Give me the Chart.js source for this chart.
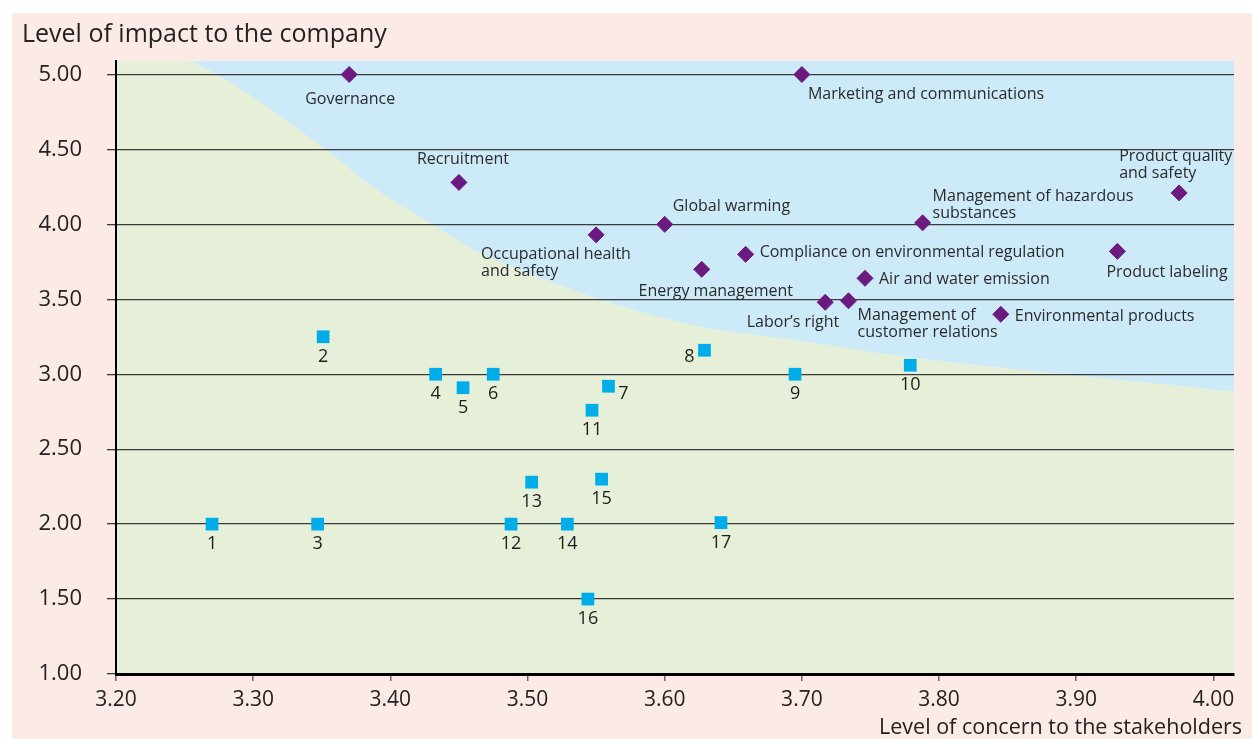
<!DOCTYPE html>
<html>
<head>
<meta charset="utf-8">
<script src="https://cdn.jsdelivr.net/npm/chart.js@4.4.0/dist/chart.umd.min.js"></script>
<style>
    html, body { margin: 0; padding: 0; background: #ffffff; }
    #marco { position: relative; width: 1252px; height: 739px; }
    #fondo { position: absolute; left: 12px; top: 13px; right: 0; bottom: 0; background: #fbeae6; }
    #grafico { position: absolute; left: 0; top: 0; }
</style>
</head>
<body>
<div id="marco">
    <div id="fondo"></div>
    <canvas id="grafico" width="1252" height="739"></canvas>
</div>
<script>
// material topics (purple diamonds)
var temasNombres = [
    'Governance', 'Marketing and communications', 'Recruitment',
    'Occupational health\nand safety', 'Global warming', 'Energy management',
    'Compliance on environmental regulation', 'Labor\u2019s right',
    'Management of\ncustomer relations', 'Air and water emission',
    'Management of hazardous\nsubstances', 'Environmental products',
    'Product labeling', 'Product quality\nand safety'
];
var temasConcern = [3.37, 3.70, 3.45, 3.55, 3.60, 3.627, 3.659, 3.717, 3.734, 3.746, 3.788, 3.845, 3.930, 3.975];
var temasImpact = [5.00, 5.00, 4.28, 3.93, 4.00, 3.70, 3.80, 3.48, 3.49, 3.64, 4.01, 3.40, 3.82, 4.21];

// numbered topics (blue squares)
var numeros = ['1', '2', '3', '4', '5', '6', '7', '8', '9', '10', '11', '12', '13', '14', '15', '16', '17'];
var numConcern = [3.270, 3.351, 3.347, 3.433, 3.453, 3.475, 3.559, 3.629, 3.695, 3.779, 3.547, 3.488, 3.503, 3.529, 3.554, 3.544, 3.641];
var numImpact = [2.00, 3.25, 2.00, 3.00, 2.91, 3.00, 2.92, 3.16, 3.00, 3.06, 2.76, 2.00, 2.28, 2.00, 2.30, 1.50, 2.01];

// boundary between the two zones
var limiteConcern = [3.20, 3.2736, 3.3435, 3.39, 3.431, 3.47, 3.553, 3.625, 3.69, 3.79, 4.015];
var limiteImpact = [5.30, 5.00, 4.566, 4.232, 4.00, 3.79, 3.50, 3.32, 3.235, 3.10, 2.885];

// top band (upper zone)
var bandaConcern = [3.20, 4.015];
var bandaImpact = [5.09, 5.09];

var xTicks = [3.2, 3.3, 3.4, 3.5, 3.6, 3.7, 3.8, 3.9, 4.0];
var yTicks = [1.0, 1.5, 2.0, 2.5, 3.0, 3.5, 4.0, 4.5, 5.0];

var xMin = 3.2, xMax = 4.015, yMin = 1.0, yMax = 5.09;

function puntos(xs, ys) {
    var arr = [];
    for (var i = 0; i < xs.length; i++) {
        arr.push({ x: xs[i], y: ys[i] });
    }
    return arr;
}

// label placement (pixels relative to the marker)
var posTemas = {
    'Governance': { dx: 1, dy: 25, align: 'center' },
    'Marketing and communications': { dx: 6, dy: 20, align: 'left' },
    'Recruitment': { dx: 4, dy: -23, align: 'center' },
    'Occupational health\nand safety': { dx: -115, dy: 20, align: 'left' },
    'Global warming': { dx: 8, dy: -18, align: 'left' },
    'Energy management': { dx: 14, dy: 22, align: 'center' },
    'Compliance on environmental regulation': { dx: 14, dy: -2, align: 'left' },
    'Labor\u2019s right': { dx: 14, dy: 20, align: 'right' },
    'Management of\ncustomer relations': { dx: 9, dy: 15, align: 'left' },
    'Air and water emission': { dx: 14, dy: 1, align: 'left' },
    'Management of hazardous\nsubstances': { dx: 10, dy: -26, align: 'left' },
    'Environmental products': { dx: 14, dy: 2, align: 'left' },
    'Product labeling': { dx: -11, dy: 21, align: 'left' },
    'Product quality\nand safety': { dx: -60, dy: -36, align: 'left' }
};
var posNumeros = {
    '7': { dx: 15, dy: 8 },
    '8': { dx: -15, dy: 7 }
};

var FUENTE = '"Open Sans", "DejaVu Sans", sans-serif';

var etiquetas = {
    id: 'etiquetas',
    afterDatasetsDraw: function (chart) {
        var ctx = chart.ctx;
        ctx.save();
        ctx.textBaseline = 'middle';

        // topic names
        ctx.fillStyle = '#2b2b2b';
        ctx.font = '16px ' + FUENTE;
        var metaT = chart.getDatasetMeta(0);
        metaT.data.forEach(function (p, i) {
            var nombre = temasNombres[i];
            var pos = posTemas[nombre] || { dx: 0, dy: 20, align: 'center' };
            ctx.textAlign = pos.align;
            var lineas = nombre.split('\n');
            for (var k = 0; k < lineas.length; k++) {
                ctx.fillText(lineas[k], p.x + pos.dx, p.y + pos.dy + k * 17);
            }
        });

        // numbers
        ctx.fillStyle = '#1e1e1e';
        ctx.font = '18px ' + FUENTE;
        ctx.textAlign = 'center';
        var metaN = chart.getDatasetMeta(1);
        metaN.data.forEach(function (p, i) {
            var pos = posNumeros[numeros[i]] || { dx: 0, dy: 20 };
            ctx.fillText(numeros[i], p.x + pos.dx, p.y + pos.dy);
        });

        // axis titles
        ctx.fillStyle = '#222222';
        ctx.font = '25px ' + FUENTE;
        ctx.textAlign = 'left';
        ctx.fillText('Level of impact to the company', 22, 35);
        ctx.font = '21.5px ' + FUENTE;
        ctx.textAlign = 'right';
        ctx.fillText('Level of concern to the stakeholders', 1242, 728);
        ctx.restore();
    }
};

var controlGrafico = document.getElementById('grafico');
var grafico = new Chart(controlGrafico, {
    type: 'scatter',
    data: {
        datasets: [{
            label: 'Material topics',
            data: puntos(temasConcern, temasImpact),
            pointStyle: 'rectRot',
            pointRadius: 8,
            pointHoverRadius: 8,
            backgroundColor: '#6b1a7f',
            borderColor: '#6b1a7f',
            borderWidth: 1
        }, {
            label: 'Other topics',
            data: puntos(numConcern, numImpact),
            pointStyle: 'rect',
            pointRadius: 9,
            pointHoverRadius: 9,
            backgroundColor: '#00adeb',
            borderColor: '#00adeb',
            borderWidth: 0
        }, {
            type: 'line',
            label: 'Lower zone',
            data: puntos(limiteConcern, limiteImpact),
            fill: 'start',
            backgroundColor: '#e6f0d8',
            borderWidth: 0,
            pointRadius: 0,
            tension: 0.35
        }, {
            type: 'line',
            label: 'Upper zone',
            data: puntos(bandaConcern, bandaImpact),
            fill: 'start',
            backgroundColor: '#cdeaf9',
            borderWidth: 0,
            pointRadius: 0
        }]
    },
    options: {
        responsive: false,
        animation: false,
        devicePixelRatio: 1,
        layout: {
            padding: { top: 61, right: 18, left: 0, bottom: 0 }
        },
        plugins: {
            legend: { display: false },
            tooltip: { enabled: false },
            filler: { drawTime: 'beforeDraw' }
        },
        scales: {
            x: {
                type: 'linear',
                min: xMin,
                max: xMax,
                afterBuildTicks: function (scale) {
                    scale.ticks = xTicks.map(function (v) { return { value: v }; });
                },
                afterFit: function (scale) {
                    scale.height = 65;
                },
                grid: {
                    drawOnChartArea: false,
                    drawTicks: true,
                    tickLength: 7,
                    color: '#666666',
                    lineWidth: 1.5
                },
                border: { display: true, color: '#000000', width: 3 },
                ticks: {
                    padding: 6,
                    color: '#222222',
                    font: { family: FUENTE, size: 21 },
                    maxRotation: 0,
                    callback: function (v) { return v.toFixed(2); }
                }
            },
            y: {
                type: 'linear',
                min: yMin,
                max: yMax,
                afterBuildTicks: function (scale) {
                    scale.ticks = yTicks.map(function (v) { return { value: v }; });
                },
                afterFit: function (scale) {
                    scale.width = 116;
                },
                grid: {
                    drawTicks: true,
                    tickLength: 9,
                    color: '#3a3a3a',
                    lineWidth: 1.3
                },
                border: { display: true, color: '#000000', width: 2 },
                ticks: {
                    padding: 25,
                    color: '#222222',
                    font: { family: FUENTE, size: 22 },
                    callback: function (v) { return v.toFixed(2); }
                }
            }
        }
    },
    plugins: [etiquetas]
});
</script>
</body>
</html>
